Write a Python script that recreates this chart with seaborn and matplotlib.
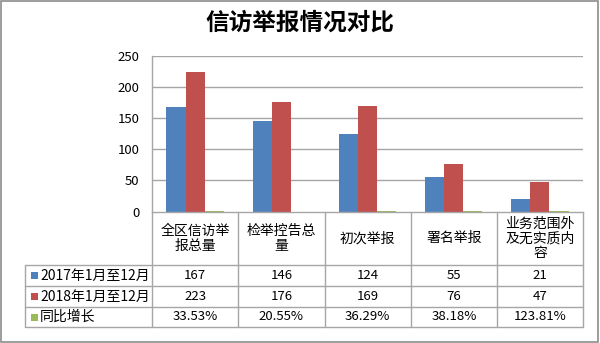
import matplotlib
matplotlib.use("Agg")
import matplotlib.pyplot as plt
from matplotlib.lines import Line2D
from matplotlib.patches import Rectangle
import seaborn as sns
import pandas as pd

# ---- data ----
categories = ["全区信访举\n报总量", "检举控告总\n量", "初次举报", "署名举报", "业务范围外\n及无实质内\n容"]
series_names = ["2017年1月至12月", "2018年1月至12月", "同比增长"]
values_2017 = [167, 146, 124, 55, 21]
values_2018 = [223, 176, 169, 76, 47]
growth_pct = [33.53, 20.55, 36.29, 38.18, 123.81]
y_ticks = [0, 50, 100, 150, 200, 250]

colors = ["#4F81BD", "#C0504D", "#9BBB59"]
grid_color = "#A6A6A6"
text_color = "#000000"

sns.set_theme(style="white")
plt.rcParams["font.family"] = ["Noto Sans CJK SC", "DejaVu Sans"]

rows = []
for i, c in enumerate(categories):
    rows.append({"cat": c, "series": series_names[0], "value": values_2017[i]})
    rows.append({"cat": c, "series": series_names[1], "value": values_2018[i]})
    rows.append({"cat": c, "series": series_names[2], "value": growth_pct[i] / 100.0})
df = pd.DataFrame(rows)

W, H = 600, 343
fig = plt.figure(figsize=(W / 100, H / 100), dpi=100)

def fx(x):
    return x / W

def fy(y):
    return 1 - y / H

ax_left, ax_right, ax_top, ax_bottom = 152, 583, 55.6, 211.7
ax = fig.add_axes([fx(ax_left), fy(ax_bottom), fx(ax_right - ax_left), (ax_bottom - ax_top) / H])

sns.barplot(data=df, x="cat", y="value", hue="series", order=categories,
            hue_order=series_names, palette=colors, width=0.666, gap=0,
            linewidth=0, saturation=1, ax=ax, legend=False)

ax.set_xlim(-0.5, len(categories) - 0.5)
ax.set_ylim(0, 250)
ax.set_yticks(y_ticks)
ax.set_yticklabels([str(t) for t in y_ticks], fontsize=9.5, color=text_color)
ax.tick_params(axis="y", length=0, pad=9)
ax.set_xticks([])
ax.set_xlabel("")
ax.set_ylabel("")
ax.grid(False)
for t in y_ticks[1:]:
    ax.axhline(t, color=grid_color, linewidth=1, zorder=0)
for s in ["top", "right"]:
    ax.spines[s].set_visible(False)
ax.spines["left"].set_color(grid_color)
ax.spines["bottom"].set_color(grid_color)
ax.spines["left"].set_linewidth(1)
ax.spines["bottom"].set_linewidth(1)

# ---- title ----
fig.text(fx(300), fy(23), "信访举报情况对比", ha="center", va="center",
         fontsize=17, fontweight="bold", color=text_color)

# ---- data table ----
col_x = [152, 238.2, 324.6, 410.8, 497, 583]
row_y = [211.7, 265, 286, 307, 327]
legend_left = 25

def hline(y, x0, x1):
    fig.add_artist(Line2D([fx(x0), fx(x1)], [fy(y), fy(y)], color=grid_color, linewidth=1))

def vline(x, y0, y1):
    fig.add_artist(Line2D([fx(x), fx(x)], [fy(y0), fy(y1)], color=grid_color, linewidth=1))

for y in row_y[1:]:
    hline(y, legend_left, col_x[-1])
for x in col_x:
    vline(x, row_y[0], row_y[-1])
vline(legend_left, row_y[1], row_y[-1])

for i, c in enumerate(categories):
    cx = (col_x[i] + col_x[i + 1]) / 2
    cy = (row_y[0] + row_y[1]) / 2
    fig.text(fx(cx), fy(cy), c, ha="center", va="center", fontsize=10,
             linespacing=1.05, color=text_color)

table_rows = [
    [str(v) for v in values_2017],
    [str(v) for v in values_2018],
    [f"{g:.2f}%" for g in growth_pct],
]
for r, (name, cells) in enumerate(zip(series_names, table_rows)):
    cy = (row_y[r + 1] + row_y[r + 2]) / 2
    fig.add_artist(Rectangle((fx(30.5), fy(cy + 3.5)), fx(7), 7 / H,
                             facecolor=colors[r], edgecolor="none"))
    fig.text(fx(40), fy(cy), name, ha="left", va="center", fontsize=10, color=text_color)
    for i, v in enumerate(cells):
        cx = (col_x[i] + col_x[i + 1]) / 2
        fig.text(fx(cx), fy(cy), v, ha="center", va="center", fontsize=9.5, color=text_color)

# ---- outer frame ----
fig.add_artist(Rectangle((fx(0.5), fy(341.5)), fx(597), 341 / H, fill=False,
                         edgecolor="#8C8C8C", linewidth=1.2))

fig.savefig("out.png", dpi=100)
